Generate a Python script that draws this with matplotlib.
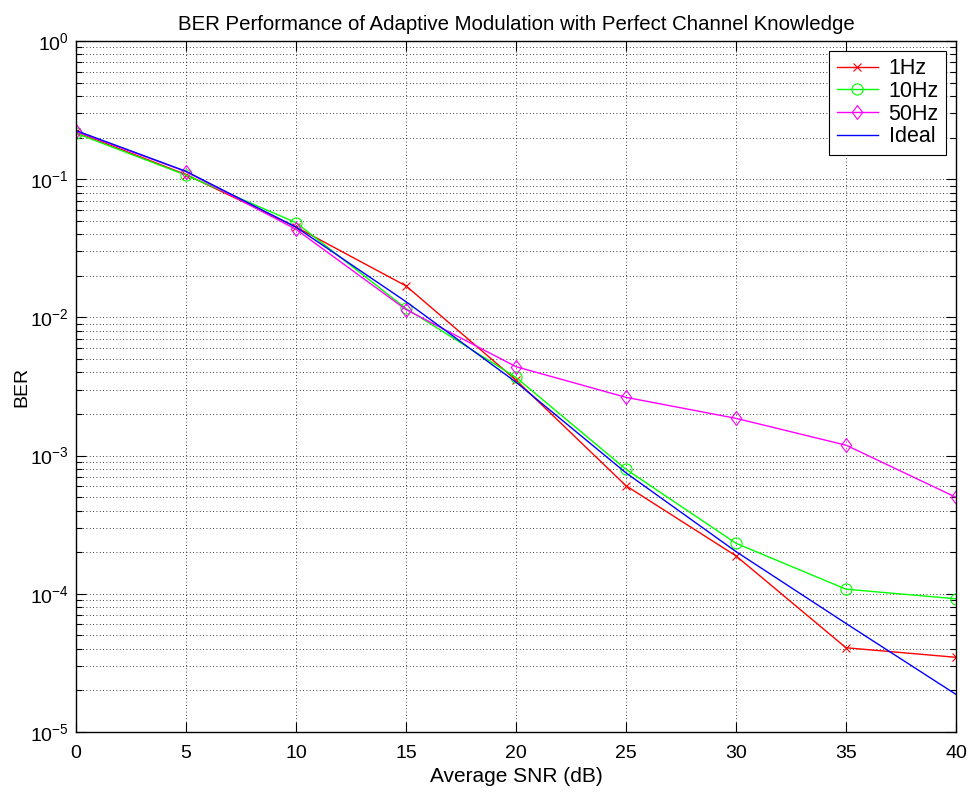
import math
import matplotlib
matplotlib.use("Agg")
import matplotlib.pyplot as plt
from matplotlib.ticker import FixedLocator, FuncFormatter, LogLocator, NullFormatter

plt.rcParams['font.family'] = ['Liberation Sans', 'DejaVu Sans']
plt.rcParams['mathtext.fontset'] = 'custom'
plt.rcParams['mathtext.rm'] = 'Liberation Sans'
plt.rcParams['mathtext.it'] = 'Liberation Sans:italic'
plt.rcParams['mathtext.bf'] = 'Liberation Sans:bold'

snr = [0, 5, 10, 15, 20, 25, 30, 35, 40]
ber_1hz = [0.220, 0.108, 0.0451, 0.0169, 0.00352, 0.000605, 0.000188, 4.07e-5, 3.47e-5]
ber_10hz = [0.215, 0.107, 0.0485, 0.0116, 0.00368, 0.000796, 0.000232, 0.000108, 9.2e-5]
ber_50hz = [0.222, 0.1135, 0.0434, 0.0114, 0.0044, 0.00264, 0.00186, 0.00119, 0.000499]
ber_ideal = [0.225, 0.114, 0.045, 0.013, 0.0034, 0.00075, 0.000202, 6.1e-5, 1.87e-5]

labels = ['1Hz', '10Hz', '50Hz', 'Ideal']
title = 'BER Performance of Adaptive Modulation with Perfect Channel Knowledge'
xlabel = 'Average SNR (dB)'
ylabel = 'BER'
xticks = [0, 5, 10, 15, 20, 25, 30, 35, 40]

diamond = [(0, 1), (0.75, 0), (0, -1), (-0.75, 0), (0, 1)]

fig = plt.figure(figsize=(9.73, 7.92), dpi=100)
ax = fig.add_axes([76/973, 1-732/792, (956-76)/973, (732-41)/792])

ax.semilogy(snr, ber_1hz, color='#FF0000', marker='x', markersize=6, mew=0.8, lw=1.0, label=labels[0])
ax.semilogy(snr, ber_10hz, color='#00FF00', marker='o', markersize=8, mfc='none', mew=0.8, lw=1.0, label=labels[1])
ax.semilogy(snr, ber_50hz, color='#FF00FF', marker=diamond, markersize=10, mfc='none', mew=0.8, lw=1.0, label=labels[2])
ax.semilogy(snr, ber_ideal, color='#0000FF', lw=1.0, label=labels[3])

ax.set_xlim(0, 40)
ax.set_ylim(1e-5, 1)
ax.xaxis.set_major_locator(FixedLocator(xticks))
ax.yaxis.set_major_locator(LogLocator(base=10, numticks=10))
ax.yaxis.set_minor_locator(LogLocator(base=10, subs=range(2, 10), numticks=20))
ax.yaxis.set_minor_formatter(NullFormatter())

def yfmt(v, pos):
    e = int(round(math.log10(v)))
    return r'$\mathregular{10^{%d}}$' % e
ax.yaxis.set_major_formatter(FuncFormatter(yfmt))

ax.grid(True, which='major', axis='x', linestyle=(0, (1, 3)), color='black', lw=0.6)
ax.grid(True, which='both', axis='y', linestyle=(0, (1, 3)), color='black', lw=0.6)

ax.tick_params(which='both', direction='in', top=True, right=True, labelsize=14)
ax.tick_params(axis='x', pad=9)
ax.tick_params(axis='y', pad=5)
ax.tick_params(which='major', length=7, width=0.8)
ax.tick_params(which='minor', length=4.5, width=0.8)
for s in ax.spines.values():
    s.set_linewidth(1.0)

ax.set_title(title, fontsize=14.7, pad=8)
ax.set_xlabel(xlabel, fontsize=15, labelpad=4)
ax.set_ylabel(ylabel, fontsize=14, labelpad=-0.5)

leg = ax.legend(loc='upper right', fontsize=15.5, fancybox=False, shadow=False,
                edgecolor='black', framealpha=1, borderaxespad=0.45,
                handlelength=1.9, labelspacing=0.08, borderpad=0.35, handletextpad=0.5)
leg.get_frame().set_linewidth(0.8)

fig.savefig('out.png', dpi=100)
